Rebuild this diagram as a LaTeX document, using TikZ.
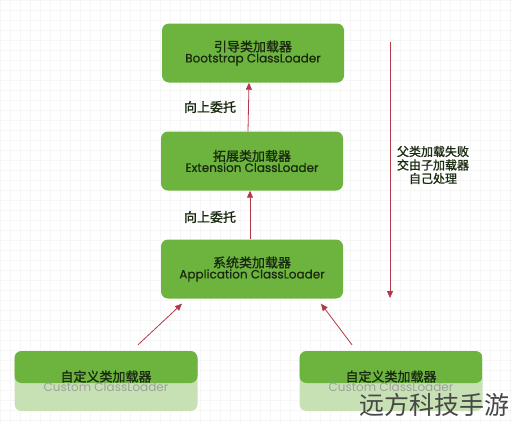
\documentclass[tikz,border=0pt]{standalone}
\usepackage{fontspec}
\setmainfont{Poppins}
\newfontfamily\cjk{Noto Sans CJK SC}
\newfontfamily\cjkb[FakeBold=1.2]{Noto Sans CJK SC}
\newfontfamily\enb[FakeBold=0.8]{Poppins}
\usetikzlibrary{calc,arrows.meta}
\definecolor{boxgreen}{HTML}{6DB43F}
\definecolor{lightgreen}{HTML}{C7E1B5}
\definecolor{txtdark}{HTML}{1A2A10}
\definecolor{arrowred}{HTML}{B23A48}
\definecolor{gridc}{HTML}{F6F6F6}
\tikzset{
  loader/.style={draw=none, fill=boxgreen, rounded corners=7pt, minimum width=182pt, minimum height=59pt, align=center, text=txtdark, inner sep=0pt},
  custom/.style={draw=none, fill=lightgreen, rounded corners=7pt, minimum width=183pt, minimum height=60pt, align=center, inner sep=0pt,
     path picture={\fill[boxgreen] (path picture bounding box.north west) rectangle ([yshift=-2pt]path picture bounding box.east);}},
  uparrow/.style={draw=arrowred, line width=0.8pt, -{Triangle[length=7pt,width=6pt]}},
  lbl/.style={font=\cjkb\fontsize{13}{15}\selectfont, text=txtdark, inner sep=0pt},
  note/.style={font=\cjkb\fontsize{12}{13.5}\selectfont, text=txtdark, align=center, inner sep=0pt}
}
\newcommand{\cnline}[1]{{\cjkb\fontsize{13}{15}\selectfont #1}}
\newcommand{\enline}[1]{{\enb\fontsize{12}{14}\selectfont #1}}
\begin{document}
\begin{tikzpicture}[x=1pt,y=-1pt]
\useasboundingbox (0,0) rectangle (513,423);
\fill[white] (0,0) rectangle (513,423);
\draw[gridc, line width=0.4pt, step=10pt] (0,0) grid (513,423);

\node[loader] (b1) at (253,53) {\cnline{引导类加载器}\\[-1pt]\enline{Bootstrap ClassLoader}};
\node[loader] (b2) at (252,161) {\cnline{拓展类加载器}\\[-1pt]\enline{Extension ClassLoader}};
\node[loader] (b3) at (252,269) {\cnline{系统类加载器}\\[-1pt]\enline{Application ClassLoader}};
\node[custom] (c1) at (106,381) {\cnline{\color{txtdark}自定义类加载器}\\[-2pt]{\fontsize{12}{14}\selectfont\color{gray!75} Custom ClassLoader}};
\node[custom] (c2) at (391,381) {\cnline{\color{txtdark}自定义类加载器}\\[-2pt]{\fontsize{12}{14}\selectfont\color{gray!75} Custom ClassLoader}};

\draw[uparrow] ([xshift=-4pt]b2.north) -- ([xshift=-4pt]b1.south);
\draw[uparrow] ([xshift=-2pt]b3.north) -- ([xshift=-2pt]b2.south);
\node[lbl] (l1) at (210,107) {向上委托};
\node[lbl] (l2) at (210,217) {向上委托};

\draw[uparrow] ($(c1.north)+(32,-6)$) -- ($(b3.south)+(-70,5)$);
\draw[uparrow] ($(c2.north)+(-39,-6)$) -- ($(b3.south)+(69,5)$);

\coordinate (ltop) at (390,42);
\coordinate (lbot) at (390,298);
\draw[uparrow] (ltop) -- (lbot);
\node[note] (n1) at (433,165) {父类加载失败\\交由子加载器\\自己处理};

\node[font=\cjk\fontsize{25}{27}\selectfont, text=black!72, inner sep=0pt] (wm) at (434,405) {远方科技手游};
\end{tikzpicture}
\end{document}
